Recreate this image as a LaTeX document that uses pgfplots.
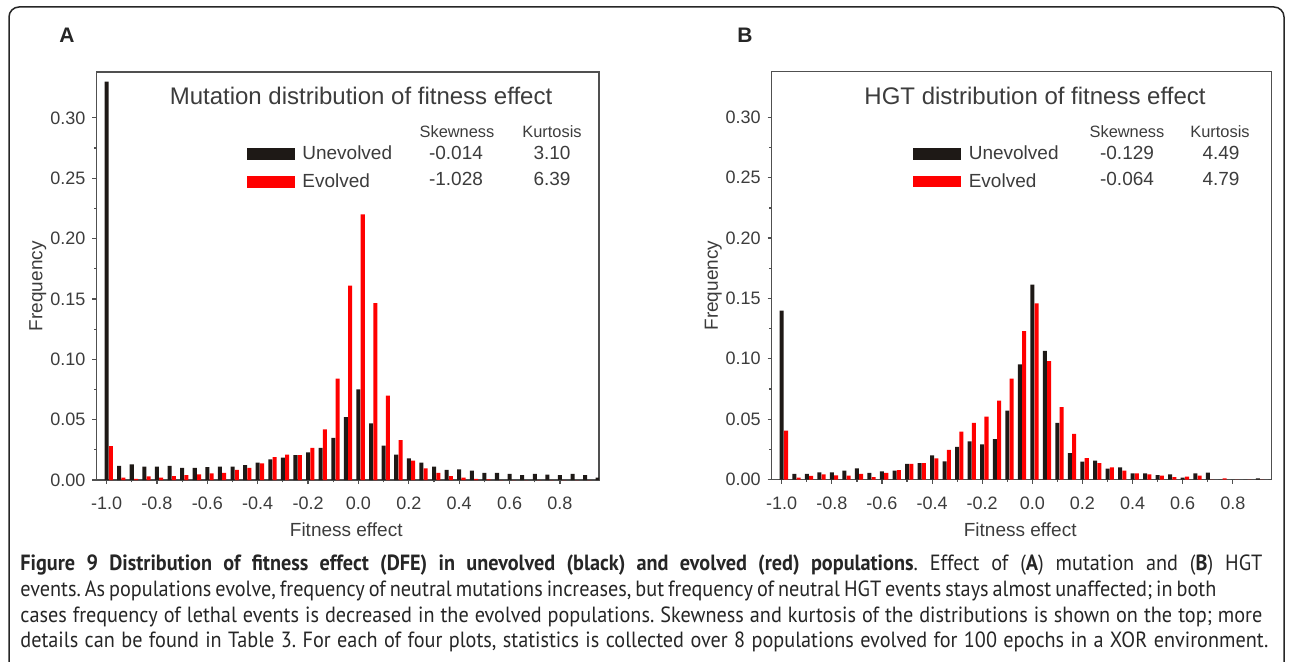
\documentclass[border=0pt]{standalone}
\usepackage{pgfplots}
\pgfplotsset{compat=1.18}
\usepackage{pgfplotstable}
\usepackage{fontspec}
\setmainfont{Liberation Sans}
\newfontfamily\capfont[FakeStretch=0.92]{PT Sans}
\frenchspacing
\definecolor{bblack}{RGB}{30,25,22}
\definecolor{bred}{RGB}{255,0,0}
\definecolor{axgray}{RGB}{80,80,80}
\definecolor{txt}{RGB}{60,60,60}

\pgfplotstableread{
x unev evol
-1.00 0.330 0.028
-0.95 0.0116 0.002
-0.90 0.013 0.001
-0.85 0.011 0.003
-0.80 0.011 0.002
-0.75 0.0116 0.0033
-0.70 0.010 0.004
-0.65 0.010 0.0047
-0.60 0.0107 0.0055
-0.55 0.011 0.006
-0.50 0.011 0.0083
-0.45 0.0124 0.010
-0.40 0.0143 0.0138
-0.35 0.017 0.019
-0.30 0.0185 0.021
-0.25 0.0207 0.0207
-0.20 0.0229 0.0267
-0.15 0.0267 0.042
-0.10 0.035 0.084
-0.05 0.052 0.161
0.00 0.075 0.220
0.05 0.047 0.1466
0.10 0.0284 0.070
0.15 0.021 0.033
0.20 0.018 0.016
0.25 0.0143 0.0096
0.30 0.011 0.006
0.35 0.0083 0.0033
0.40 0.0088 0.002
0.45 0.0077 0.001
0.50 0.006 0.0005
0.55 0.006 0
0.60 0.005 0
0.65 0.004 0
0.70 0.005 0
0.75 0.0045 0
0.80 0.004 0
0.85 0.005 0
0.90 0.004 0
0.95 0.002 0
}\dataA

\pgfplotstableread{
x unev evol
-1.00 0.140 0.0404
-0.95 0.0046 0.0015
-0.90 0.0046 0.003
-0.85 0.006 0.0043
-0.80 0.006 0.0035
-0.75 0.0074 0.0032
-0.70 0.0093 0.0046
-0.65 0.0054 0.002
-0.60 0.0068 0.0054
-0.55 0.0074 0.0077
-0.50 0.013 0.013
-0.45 0.0135 0.0135
-0.40 0.0199 0.0176
-0.35 0.015 0.0246
-0.30 0.027 0.0396
-0.25 0.0315 0.047
-0.20 0.029 0.052
-0.15 0.0335 0.0654
-0.10 0.057 0.0835
-0.05 0.0954 0.123
0.00 0.1615 0.146
0.05 0.1065 0.098
0.10 0.047 0.060
0.15 0.0218 0.0377
0.20 0.0149 0.0178
0.25 0.0157 0.0135
0.30 0.009 0.010
0.35 0.010 0.0074
0.40 0.0051 0.005
0.45 0.005 0.0043
0.50 0.0037 0.0032
0.55 0.0043 0.002
0.60 0.0015 0.0024
0.65 0.005 0.0032
0.70 0.0057 0
0.75 0 0.001
0.80 0 0
0.85 0 0
0.90 0.001 0
0.95 0 0
}\dataB

\pgfplotsset{
  dfe/.style={
    scale only axis, height=204pt,
    xmin=-1.04, xmax=0.955, ymin=0, ymax=0.338,
    axis line style={draw=axgray, line width=0.65pt},
    tick style={draw=axgray, line width=0.6pt},
    major tick length=2pt, minor tick length=1.2pt,
    tick align=outside, xtick pos=left, ytick pos=left,
    xtick={-1,-0.8,-0.6,-0.4,-0.2,0,0.2,0.4,0.6,0.8},
    ytick={0,0.05,0.1,0.15,0.2,0.25,0.3},
    minor x tick num=1, minor y tick num=1,
    /pgf/number format/assume math mode=true,
    ticklabel style={font=\fontsize{9}{10}\selectfont, text=txt},
    xticklabel style={yshift=-3pt, /pgf/number format/.cd, fixed, fixed zerofill, precision=1},
    yticklabel style={/pgf/number format/.cd, fixed, fixed zerofill, precision=2},
    xlabel={Fitness effect}, ylabel={Frequency},
    label style={font=\fontsize{9.5}{11}\selectfont, text=txt},
    xlabel style={at={(axis description cs:0.497,-0.1225)}, anchor=center},
    ylabel style={at={(axis description cs:-0.117,0.475)}, anchor=center},
    legend cell align=left,
    legend style={draw=none, fill=none, inner sep=0pt, outer sep=0pt,
      font=\fontsize{9.5}{11}\selectfont, text=txt, row sep=5.6pt, column sep=3.8pt,
      nodes={inner sep=0pt}},
    legend image code/.code={\fill (0pt,-2.9pt) rectangle (24pt,2.9pt);},
  },
  blk/.style={ybar, bar width=0.016, bar shift=0pt, fill=bblack, draw=none},
  rd/.style={ybar, bar width=0.016, bar shift=0.017, fill=bred, draw=none},
}

\begin{document}
\begin{tikzpicture}
\useasboundingbox (0,0) rectangle (645pt,-331pt);
% outer frame
\draw[line width=0.75pt, black!85, rounded corners=5pt] (4.5pt,-332pt) -- (4.5pt,-3.5pt) -- (642pt,-3.5pt) -- (642pt,-332pt);

\begin{axis}[dfe, at={(48.25pt,-240pt)}, anchor=south west, width=251.25pt,
  legend style={at={(rel axis cs:0.299,0.819)}, anchor=north west}]
\addplot[blk] table[x=x, y=unev] {\dataA};
\addlegendentry{Unevolved}
\addplot[rd] table[x=x, y=evol] {\dataA};
\addlegendentry{Evolved}
\end{axis}

\begin{axis}[dfe, at={(385.85pt,-239.75pt)}, anchor=south west, width=250pt,
  legend style={at={(rel axis cs:0.283,0.819)}, anchor=north west}]
\addplot[blk] table[x=x, y=unev] {\dataB};
\addlegendentry{Unevolved}
\addplot[rd] table[x=x, y=evol] {\dataB};
\addlegendentry{Evolved}
\end{axis}

% panel letters
\node[font=\bfseries\fontsize{10.5}{12}\selectfont, text=black!85] at (33.5pt,-17.5pt) {A};
\node[font=\bfseries\fontsize{10.5}{12}\selectfont, text=black!85] at (372.5pt,-17.5pt) {B};

% titles
\node[font=\fontsize{12}{14}\selectfont, text=txt] at (180.5pt,-48pt) {Mutation distribution of fitness effect};
\node[font=\fontsize{12}{14}\selectfont, text=txt] at (517.5pt,-48pt) {HGT distribution of fitness effect};

% statistics
\begin{scope}[every node/.style={text=txt, inner sep=0pt}]
\node[font=\fontsize{8.2}{10}\selectfont] at (228.5pt,-66pt) {Skewness};
\node[font=\fontsize{8.2}{10}\selectfont] at (276pt,-66pt) {Kurtosis};
\node[font=\fontsize{9.5}{11}\selectfont] at (228pt,-76.7pt) {-0.014};
\node[font=\fontsize{9.5}{11}\selectfont] at (276pt,-76.7pt) {3.10};
\node[font=\fontsize{9.5}{11}\selectfont] at (228pt,-89.7pt) {-1.028};
\node[font=\fontsize{9.5}{11}\selectfont] at (276pt,-89.7pt) {6.39};
\node[font=\fontsize{8.2}{10}\selectfont] at (563.5pt,-66pt) {Skewness};
\node[font=\fontsize{8.2}{10}\selectfont] at (610pt,-66pt) {Kurtosis};
\node[font=\fontsize{9.5}{11}\selectfont] at (563.5pt,-76.7pt) {-0.129};
\node[font=\fontsize{9.5}{11}\selectfont] at (610.5pt,-76.7pt) {4.49};
\node[font=\fontsize{9.5}{11}\selectfont] at (563.5pt,-89.7pt) {-0.064};
\node[font=\fontsize{9.5}{11}\selectfont] at (610.5pt,-89.7pt) {4.79};
\end{scope}

% caption
\begin{scope}[every node/.style={anchor=base west, inner sep=0pt, text=black!85, font=\capfont\fontsize{11}{13}\selectfont}]
\node at (10pt,-285pt) {\makebox[621pt][s]{\textbf{Figure 9 Distribution of fitness effect (DFE) in unevolved (black) and evolved (red) populations}. Effect of (\textbf{A}) mutation and (\textbf{B}) HGT}};
\node at (10pt,-298pt) {\makebox[598pt][s]{events. As populations evolve, frequency of neutral mutations increases, but frequency of neutral HGT events stays almost unaffected; in both}};
\node at (10pt,-311pt) {\makebox[621pt][s]{cases frequency of lethal events is decreased in the evolved populations. Skewness and kurtosis of the distributions is shown on the top; more}};
\node at (10pt,-323.5pt) {\makebox[624pt][s]{details can be found in Table 3. For each of four plots, statistics is collected over 8 populations evolved for 100 epochs in a XOR environment.}};
\end{scope}
\end{tikzpicture}
\end{document}
